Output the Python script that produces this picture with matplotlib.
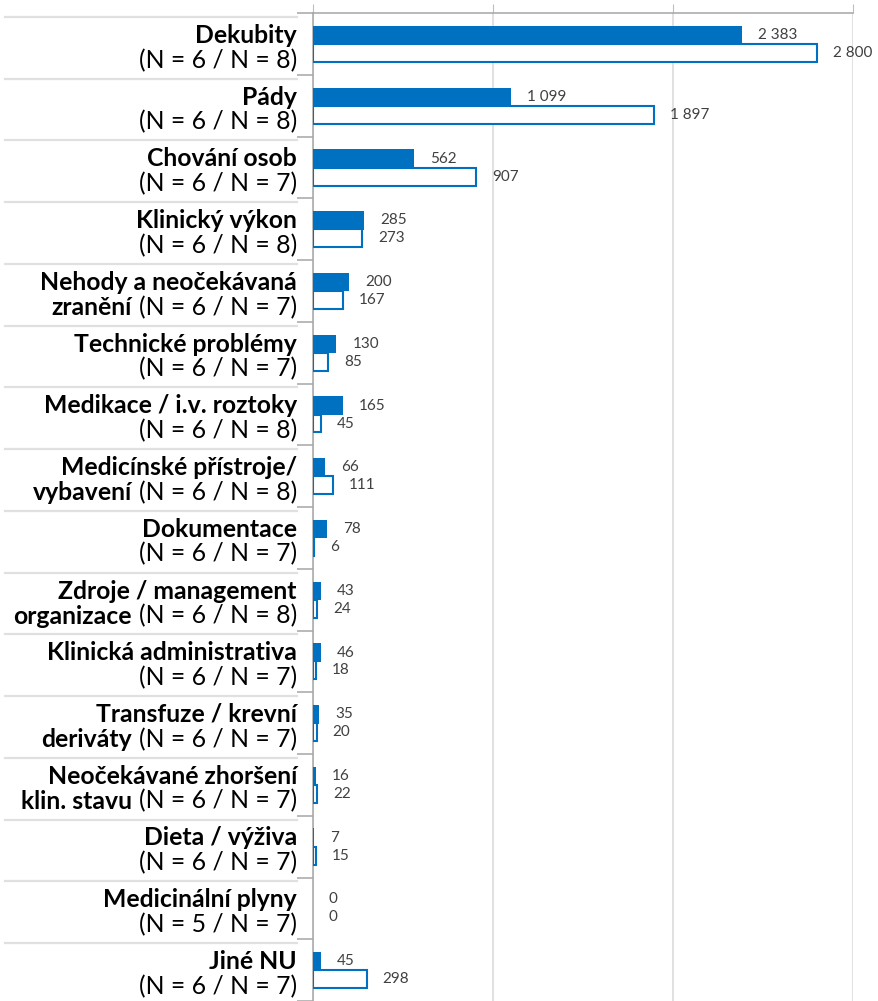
import matplotlib.pyplot as plt
from matplotlib.transforms import blended_transform_factory
from matplotlib.lines import Line2D

plt.rcParams['font.family'] = ['Lato', 'DejaVu Sans']

# line 1 (bold), bold start of line 2, regular N part of line 2
names = ["Dekubity", "Pády", "Chování osob", "Klinický výkon",
         "Nehody a neočekávaná", "Technické problémy", "Medikace / i.v. roztoky",
         "Medicínské přístroje/", "Dokumentace", "Zdroje / management",
         "Klinická administrativa", "Transfuze / krevní", "Neočekávané zhoršení",
         "Dieta / výživa", "Medicinální plyny", "Jiné NU"]
names2 = ["", "", "", "", "zranění", "", "", "vybavení", "", "organizace",
          "", "deriváty", "klin. stavu", "", "", ""]
counts = ["(N = 6 / N = 8)", "(N = 6 / N = 8)", "(N = 6 / N = 7)", "(N = 6 / N = 8)",
          "(N = 6 / N = 7)", "(N = 6 / N = 7)", "(N = 6 / N = 8)", "(N = 6 / N = 8)",
          "(N = 6 / N = 7)", "(N = 6 / N = 8)", "(N = 6 / N = 7)", "(N = 6 / N = 7)",
          "(N = 6 / N = 7)", "(N = 6 / N = 7)", "(N = 5 / N = 7)", "(N = 6 / N = 7)"]
filled = [2383, 1099, 562, 285, 200, 130, 165, 66, 78, 43, 46, 35, 16, 7, 0, 45]
outline = [2800, 1897, 907, 273, 167, 85, 45, 111, 6, 24, 18, 20, 22, 15, 0, 298]

blue = "#0070C0"
n = len(names)
y = list(range(n))

fig = plt.figure(figsize=(8.79, 10.01), dpi=100)
ax = fig.add_axes([313 / 879, 0.0, 540 / 879, 1 - 13.3 / 1001])

ax.barh([i - 0.145 for i in y], filled, height=0.3, color=blue, zorder=3)
ax.barh([i + 0.145 for i in y], outline, height=0.29, color="white",
        edgecolor=blue, linewidth=[1.5 if v > 0 else 0 for v in outline], zorder=3)

px = 72 / 100
for i in y:
    for v, dy in ((filled[i], -0.145), (outline[i], 0.145)):
        ax.annotate(f"{v:,}".replace(",", " "), xy=(v, i + dy), xytext=(16 * px, 0),
                    textcoords="offset points", ha="left", va="center",
                    fontsize=11, color="#404040")

ax.set_xlim(0, 3000)
ax.set_ylim(n - 0.5, -0.5)

ax.xaxis.tick_top()
ax.set_xticks([0, 1000, 2000, 3000])
ax.tick_params(axis="x", length=9 * px, color="#bfbfbf", labeltop=False, labelbottom=False)
ax.grid(axis="x", color="#d9d9d9", linewidth=1.1, zorder=0)

ax.set_yticks([i - 0.5 for i in range(n + 1)])
ax.set_yticklabels([])
ax.tick_params(axis="y", length=16 * px, color="#a6a6a6", width=1.1)

for s in ("right", "bottom"):
    ax.spines[s].set_visible(False)
for s in ("top", "left"):
    ax.spines[s].set_color("#a6a6a6")
    ax.spines[s].set_linewidth(1.1)

tr = blended_transform_factory(ax.transAxes, ax.transData)
xr = (297 - 313) / 540
for i in y:
    ax.text(xr, i - 0.5 + 0.48, names[i], transform=tr, ha="right", va="baseline",
            fontsize=17.8, fontweight="bold", color="black")
    t = ax.text(xr, i - 0.5 + 0.885, counts[i], transform=tr, ha="right",
                va="baseline", fontsize=17.8, color="black")
    if names2[i]:
        ax.annotate(names2[i], xy=(0, 0), xycoords=t, xytext=(-5, 0),
                    textcoords="offset points", ha="right", va="bottom",
                    fontsize=17.8, fontweight="bold", color="black")
    # light separator above each category
    ax.add_line(Line2D([(5 - 313) / 540, xr], [i - 0.5 + 0.06] * 2, transform=tr,
                       color="#e0e0e0", linewidth=1.6, clip_on=False))

fig.savefig("out.png", dpi=100)
